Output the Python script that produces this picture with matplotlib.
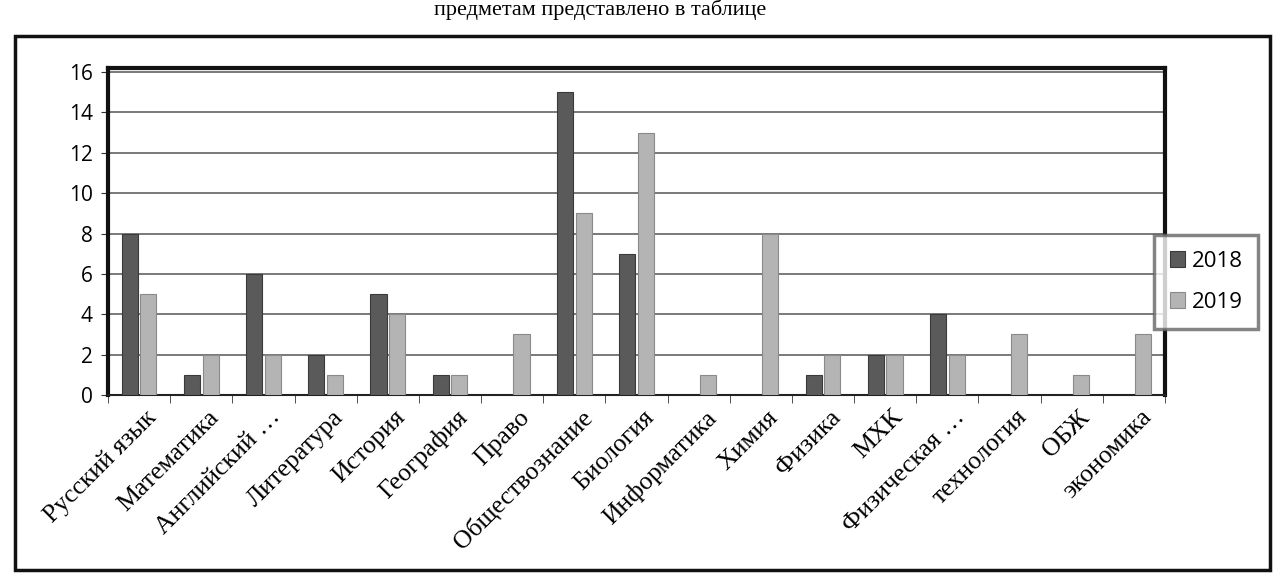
import matplotlib
matplotlib.use("Agg")
import matplotlib.pyplot as plt
import numpy as np
from matplotlib.patches import Rectangle

subjects = [
    "Русский язык", "Математика", "Английский …", "Литература", "История",
    "География", "Право", "Обществознание", "Биология", "Информатика",
    "Химия", "Физика", "МХК", "Физическая …", "технология", "ОБЖ", "экономика",
]
y2018 = [8, 1, 6, 2, 5, 1, 0, 15, 7, 0, 0, 1, 2, 4, 0, 0, 0]
y2019 = [5, 2, 2, 1, 4, 1, 3, 9, 13, 1, 8, 2, 2, 2, 3, 1, 3]
years = ["2018", "2019"]
yticks = [0, 2, 4, 6, 8, 10, 12, 14, 16]

W, H = 1277, 573
fig = plt.figure(figsize=(W / 100, H / 100), dpi=100)
fig.patch.set_facecolor("white")

ax = fig.add_axes([108 / W, 1 - 395 / H, (1165 - 108) / W, (395 - 68) / H])

x = np.arange(len(subjects))
ax.bar(x - 0.15, y2018, width=0.26, color="#5a5a5a", edgecolor="#3a3a3a",
       linewidth=0.8, label=years[0], zorder=3)
ax.bar(x + 0.15, y2019, width=0.26, color="#b4b4b4", edgecolor="#8a8a8a",
       linewidth=0.8, label=years[1], zorder=3)

ax.set_xlim(-0.5, len(subjects) - 0.5)
ax.set_ylim(0, 16.2)
ax.set_yticks(yticks)
ax.set_yticklabels([str(v) for v in yticks], fontsize=15, family="Open Sans")
ax.yaxis.grid(True, color="#555555", linewidth=1.1, zorder=0)
ax.set_axisbelow(True)

ax.set_xticks(np.arange(len(subjects) + 1) - 0.5, minor=True)
ax.set_xticks(x + 0.1)
ax.set_xticklabels(subjects, rotation=45, ha="right", rotation_mode="anchor",
                   fontsize=18.5, family="Liberation Serif")
ax.tick_params(axis="x", which="major", length=0, pad=8)
ax.tick_params(axis="x", which="minor", length=6, color="#333333")
ax.tick_params(axis="y", length=5, color="#333333", pad=6)

for side in ["left", "top", "right"]:
    ax.spines[side].set_linewidth(3)
    ax.spines[side].set_color("#111111")
ax.spines["bottom"].set_linewidth(1.5)
ax.spines["bottom"].set_color("#222222")

leg = fig.legend(loc="center left", bbox_to_anchor=(1143 / W, 1 - 282 / H),
                 fontsize=16, frameon=True, fancybox=False, handlelength=0.7,
                 handleheight=0.7, handletextpad=0.3, labelspacing=0.9,
                 borderpad=0.7)
leg.get_frame().set_edgecolor("#666666")
leg.get_frame().set_linewidth(2.5)
for t in leg.get_texts():
    t.set_family("Open Sans")

# outer chart border
fig.add_artist(Rectangle((15 / W, 3 / H), (1270 - 15) / W, (537 - 3) / H,
                         transform=fig.transFigure, fill=False,
                         edgecolor="#111111", linewidth=2.5))

fig.text(600 / W, 1 - 10 / H, "предметам представлено в таблице",
         ha="center", va="center", fontsize=16, family="Liberation Serif")

fig.savefig("out.png", dpi=100)
